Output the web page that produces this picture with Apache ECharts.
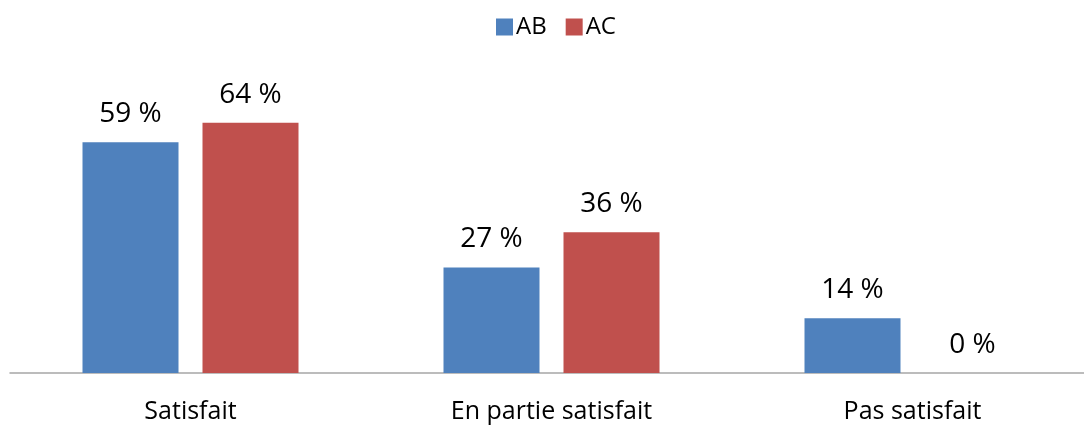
<!DOCTYPE html>
<html>
<head>
<meta charset="utf-8">
<script src="https://cdn.jsdelivr.net/npm/echarts@6/dist/echarts.min.js"></script>
<style>
  html, body { margin: 0; padding: 0; background: #fff; overflow: hidden; }
  /* plot area runs a few px past the right edge, like the original */
  #chart { width: 1093px; height: 425px; }
</style>
</head>
<body>
<div id="chart"></div>
<script>
const categories = ['Satisfait', 'En partie satisfait', 'Pas satisfait'];
const abValues = [59, 27, 14];
const acValues = [64, 36, 0];

const font = '"Open Sans", sans-serif';

const chart = echarts.init(document.getElementById('chart'));

const labelStyle = {
  show: true,
  position: 'top',
  distance: 14,
  color: '#000',
  fontFamily: font,
  fontSize: 28,
  formatter: p => p.value + ' %'
};

chart.setOption({
  animation: false,
  legend: {
    left: 491,
    top: 10,
    itemWidth: 17,
    itemHeight: 17,
    itemGap: 19,
    icon: 'rect',
    textStyle: { fontFamily: font, fontSize: 24, color: '#000', padding: [0, 0, 0, -2] },
    data: ['AB', 'AC']
  },
  grid: { left: 10, right: 0, top: 99.3, bottom: 52, containLabel: false },
  xAxis: {
    type: 'category',
    data: categories,
    axisLine: { lineStyle: { color: '#a6a6a6', width: 1.5 } },
    axisTick: { show: false },
    axisLabel: { color: '#000', fontFamily: font, fontSize: 25, margin: 26 }
  },
  yAxis: {
    type: 'value',
    min: 0,
    max: 70,
    show: false
  },
  series: [
    {
      name: 'AB',
      type: 'bar',
      data: abValues,
      barWidth: 96,
      barGap: '25%',
      itemStyle: { color: '#4f81bd' },
      label: labelStyle
    },
    {
      name: 'AC',
      type: 'bar',
      data: acValues,
      barWidth: 96,
      itemStyle: { color: '#c0504d' },
      label: labelStyle
    }
  ]
});
</script>
</body>
</html>
